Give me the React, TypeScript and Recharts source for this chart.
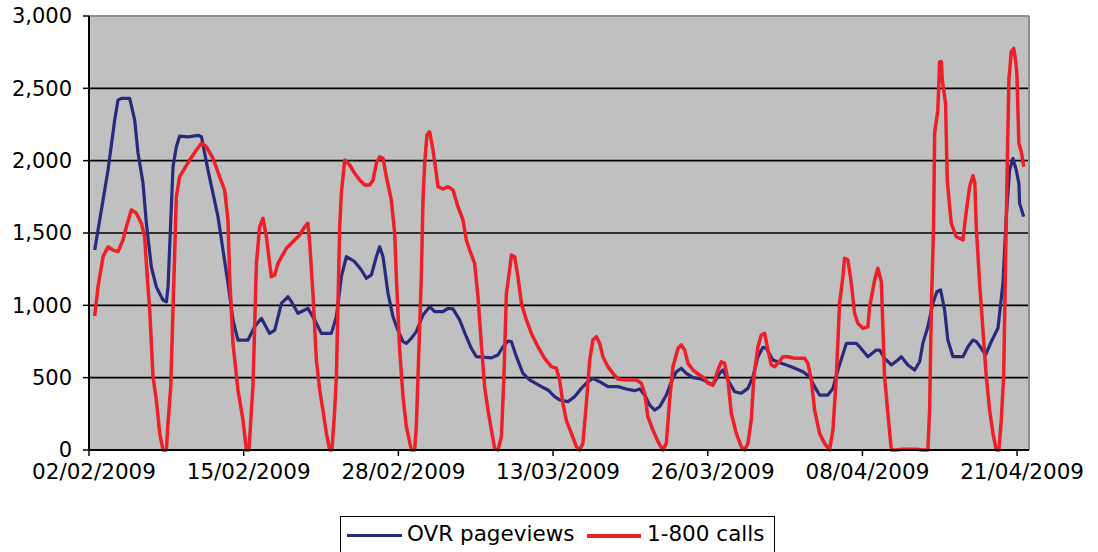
import { LineChart, Line, XAxis, YAxis, CartesianGrid, ReferenceLine } from 'recharts';

// x = days since 02/02/2009
const xTicks = [0, 13, 26, 39, 52, 65, 78];
const xTickLabels = ['02/02/2009', '15/02/2009', '28/02/2009', '13/03/2009', '26/03/2009', '08/04/2009', '21/04/2009'];
const yTicks = [0, 500, 1000, 1500, 2000, 2500, 3000];

const ovrDays = [
  0.48, 1.6, 2.16, 2.44, 2.72, 3.42, 3.84, 4.12, 4.54, 4.82, 5.24, 5.66, 6.22, 6.5, 6.64, 7.06, 7.34, 7.62, 8.32, 9.16,
  9.45, 10.0, 10.84, 11.68, 12.1, 12.52, 13.36, 13.92, 14.49, 15.18, 15.61, 16.17, 16.72, 17.01, 17.56, 18.4, 18.97, 19.53, 20.37, 20.79,
  21.21, 21.63, 22.33, 22.89, 23.31, 23.73, 24.15, 24.43, 24.71, 25.13, 25.55, 25.95, 26.39, 26.67, 27.09, 27.51, 28.07, 28.63, 29.05, 29.75,
  30.17, 30.59, 31.15, 31.71, 32.13, 32.55, 33.82, 34.37, 34.79, 35.21, 35.5, 35.92, 36.47, 37.03, 38.02, 38.57, 39.13, 39.55, 40.25, 40.82,
  41.38, 41.93, 42.35, 42.92, 43.61, 44.45, 45.16, 45.86, 46.28, 46.7, 47.12, 47.54, 47.96, 48.52, 48.94, 49.36, 49.78, 50.2, 50.76, 51.46,
  51.74, 52.44, 53.0, 53.28, 53.7, 54.26, 54.82, 55.38, 55.8, 56.22, 56.64, 56.92, 57.48, 58.18, 59.03, 60.0, 60.56, 60.98, 61.4, 62.1,
  62.52, 62.94, 63.65, 64.49, 64.76, 65.46, 66.17, 66.45, 66.86, 67.43, 67.98, 68.27, 68.82, 69.39, 69.81, 70.08, 70.5, 70.92, 71.26, 71.57,
  71.91, 72.18, 72.61, 73.45, 73.87, 74.29, 74.57, 74.99, 75.35, 75.83, 76.39, 76.81, 77.09, 77.37, 77.65, 77.93, 78.15, 78.21, 78.55,
];
const ovrValues = [
  1382, 1935, 2281, 2419, 2431, 2431, 2281, 2053, 1845, 1569, 1265, 1127, 1037, 1025, 1127, 1958, 2096, 2170, 2165, 2175,
  2165, 1935, 1613, 1152, 899, 760, 760, 852, 910, 806, 829, 1014, 1060, 1025, 945, 979, 899, 806, 806, 921,
  1198, 1336, 1302, 1244, 1187, 1210, 1336, 1405, 1336, 1083, 920, 830, 749, 737, 772, 818, 933, 991, 956, 956,
  979, 975, 899, 783, 703, 645, 637, 657, 714, 753, 749, 645, 530, 484, 438, 415, 369, 346, 334, 369,
  426, 472, 495, 472, 438, 438, 422, 410, 422, 380, 311, 276, 299, 380, 472, 541, 565, 530, 500, 491,
  480, 449, 530, 553, 484, 403, 392, 426, 507, 645, 710, 703, 622, 599, 576, 541, 507, 438, 380, 380,
  426, 553, 737, 737, 714, 645, 691, 691, 634, 588, 622, 645, 588, 553, 610, 737, 852, 1014, 1094, 1106,
  968, 760, 645, 645, 714, 760, 749, 703, 657, 749, 841, 1152, 1613, 1935, 2016, 1935, 1843, 1705, 1613,
];

const callDays = [
  0.48, 0.76, 1.18, 1.6, 2.02, 2.44, 2.86, 3.14, 3.56, 3.98, 4.4, 4.68, 4.82, 5.1, 5.38, 5.66, 5.94, 6.22, 6.5, 6.64,
  6.87, 7.06, 7.34, 7.62, 8.04, 8.46, 9.03, 9.45, 9.87, 10.42, 10.98, 11.4, 11.68, 11.82, 12.1, 12.52, 12.94, 13.23, 13.45, 13.65,
  13.78, 14.07, 14.34, 14.62, 14.91, 15.18, 15.33, 15.61, 15.88, 16.59, 17.29, 17.71, 18.13, 18.4, 18.55, 18.82, 19.11, 19.39, 19.66, 19.95,
  20.23, 20.42, 20.65, 20.79, 21.07, 21.21, 21.49, 21.91, 22.33, 22.75, 23.17, 23.59, 23.87, 24.15, 24.43, 24.71, 24.99, 25.41, 25.69, 25.83,
  26.11, 26.39, 26.67, 27.09, 27.37, 27.51, 27.65, 27.93, 28.07, 28.21, 28.4, 28.63, 28.91, 29.19, 29.33, 29.75, 30.17, 30.59, 31.01, 31.43,
  31.71, 31.99, 32.41, 32.69, 32.97, 33.25, 33.53, 33.82, 34.09, 34.37, 34.66, 34.87, 35.08, 35.35, 35.5, 35.77, 36.05, 36.34, 36.76, 37.18,
  37.73, 38.29, 38.86, 39.28, 39.55, 39.83, 40.11, 40.54, 40.96, 41.24, 41.51, 41.8, 42.08, 42.35, 42.64, 42.92, 43.19, 43.61, 44.03, 44.45,
  45.16, 46.0, 46.42, 46.7, 46.97, 47.39, 47.82, 48.24, 48.52, 48.8, 49.08, 49.5, 49.78, 50.06, 50.34, 50.76, 51.32, 51.74, 52.02, 52.44,
  52.86, 53.14, 53.42, 53.7, 53.98, 54.4, 54.82, 55.1, 55.38, 55.66, 55.88, 56.22, 56.5, 56.78, 57.06, 57.34, 57.62, 57.9, 58.32, 58.74,
  59.3, 60.14, 60.42, 60.71, 60.98, 61.4, 61.82, 62.24, 62.52, 62.81, 63.08, 63.36, 63.5, 63.78, 64.07, 64.34, 64.62, 65.04, 65.46, 65.61,
  66.03, 66.3, 66.59, 66.72, 66.86, 67.14, 67.43, 67.85, 68.4, 69.53, 70.08, 70.5, 70.65, 70.79, 70.98, 71.07, 71.34, 71.49, 71.63, 71.71,
  71.99, 72.13, 72.33, 72.47, 72.89, 73.45, 73.67, 74.01, 74.29, 74.45, 74.57, 74.85, 75.13, 75.41, 75.69, 75.97, 76.25, 76.47, 76.67, 76.87,
  77.01, 77.18, 77.31, 77.51, 77.71, 77.87, 77.98, 78.15, 78.35, 78.57,
];
const callValues = [
  926, 1129, 1336, 1405, 1382, 1371, 1452, 1543, 1659, 1636, 1567, 1474, 1290, 968, 507, 346, 115, 0, 0, 184,
  438, 968, 1751, 1889, 1947, 2004, 2074, 2120, 2096, 2016, 1889, 1797, 1590, 1198, 737, 415, 207, 0, 0, 276,
  438, 1290, 1543, 1601, 1474, 1290, 1198, 1210, 1290, 1394, 1452, 1486, 1543, 1567, 1429, 1083, 622, 415, 276, 115,
  0, 0, 276, 507, 1543, 1774, 2004, 1970, 1912, 1866, 1832, 1832, 1866, 1981, 2027, 2016, 1889, 1728, 1500, 1198,
  691, 369, 161, 0, 0, 161, 507, 1198, 1728, 1981, 2177, 2200, 2074, 1912, 1820, 1804, 1820, 1797, 1682, 1590,
  1452, 1382, 1290, 1060, 737, 438, 276, 138, 12, 0, 92, 507, 1083, 1244, 1348, 1336, 1198, 1014, 899, 806,
  714, 634, 576, 565, 484, 323, 207, 115, 23, 0, 46, 323, 622, 760, 783, 737, 645, 576, 530, 491,
  484, 484, 461, 392, 230, 138, 58, 0, 46, 346, 576, 703, 726, 691, 599, 553, 518, 495, 461, 449,
  553, 610, 599, 484, 254, 115, 23, 0, 46, 207, 507, 714, 795, 806, 691, 588, 576, 599, 645, 645,
  634, 634, 599, 484, 276, 115, 46, 0, 138, 507, 1014, 1198, 1325, 1313, 1152, 945, 876, 841, 852, 991,
  1175, 1256, 1163, 852, 507, 254, 0, 0, 5, 5, 0, 0, 276, 968, 1543, 2189, 2350, 2684, 2684, 2557,
  2396, 1866, 1682, 1567, 1474, 1452, 1613, 1820, 1896, 1843, 1543, 1152, 829, 507, 276, 115, 0, 0, 207, 507,
  1198, 2004, 2557, 2753, 2776, 2696, 2604, 2120, 2062, 1958,
];

const ovrData = ovrDays.map((d, i) => ({ day: d, value: ovrValues[i] }));
const callData = callDays.map((d, i) => ({ day: d, value: callValues[i] }));

const FONT = '"DejaVu Sans", Verdana, sans-serif';
const BLUE = '#29297d';
const RED = '#ee1f26';

function XTick(props: any) {
  const { x, y, payload } = props;
  const idx = xTicks.indexOf(payload.value);
  return (
    <text x={x + 5} y={y} dy="0.71em" textAnchor="middle" fontSize={21.5} fontFamily={FONT} fill="#000">
      {xTickLabels[idx]}
    </text>
  );
}

export default function App() {
  return (
    <div style={{ position: 'absolute', left: 0, top: 0, width: 1098, height: 552, background: '#fff', overflow: 'hidden', fontFamily: FONT }}>
      <LineChart width={1098} height={552} margin={{ top: 16, right: 69, bottom: 72, left: 9 }}>
        <CartesianGrid
          fill="#c0c0c0"
          fillOpacity={1}
          vertical={false}
          stroke="#000"
          strokeWidth={1.6}
          horizontalValues={[500, 1000, 1500, 2000, 2500]}
        />
        <XAxis
          type="number"
          dataKey="day"
          domain={[0, 79]}
          ticks={xTicks}
          interval={0}
          height={30}
          tickSize={6}
          tickMargin={8}
          axisLine={{ stroke: '#000', strokeWidth: 2 }}
          tickLine={{ stroke: '#000', strokeWidth: 1.5 }}
          tick={<XTick />}
          allowDataOverflow
        />
        <YAxis
          type="number"
          domain={[0, 3000]}
          ticks={yTicks}
          interval={0}
          width={80}
          tickSize={6}
          tickMargin={11}
          axisLine={{ stroke: '#000', strokeWidth: 2 }}
          tickLine={{ stroke: '#000', strokeWidth: 1.5 }}
          tick={{ fontSize: 21, fontFamily: FONT, fill: '#000' }}
          tickFormatter={(v: number) => v.toLocaleString('en-US')}
        />
        <ReferenceLine y={3000} stroke="#8f8f8f" strokeWidth={2} />
        <ReferenceLine x={79} stroke="#8f8f8f" strokeWidth={2} />
        <Line
          data={ovrData}
          dataKey="value"
          type="linear"
          stroke={BLUE}
          strokeWidth={3.2}
          strokeLinejoin="round"
          dot={false}
          isAnimationActive={false}
        />
        <Line
          data={callData}
          dataKey="value"
          type="linear"
          stroke={RED}
          strokeWidth={3.5}
          strokeLinejoin="round"
          dot={false}
          isAnimationActive={false}
        />
      </LineChart>
      <div
        style={{
          position: 'absolute',
          left: 340,
          top: 516,
          width: 435,
          height: 40,
          border: '1.5px solid #000',
          background: '#fff',
          boxSizing: 'border-box',
        }}
      >
        <div style={{ position: 'absolute', left: 6, top: 17, width: 55, height: 3, background: BLUE }} />
        <span style={{ position: 'absolute', left: 66, top: 5, fontSize: 21.5, lineHeight: '24px', color: '#000' }}>OVR pageviews</span>
        <div style={{ position: 'absolute', left: 246, top: 17, width: 54, height: 3.5, background: RED }} />
        <span style={{ position: 'absolute', left: 306, top: 5, fontSize: 21.5, lineHeight: '24px', color: '#000' }}>1-800 calls</span>
      </div>
    </div>
  );
}
